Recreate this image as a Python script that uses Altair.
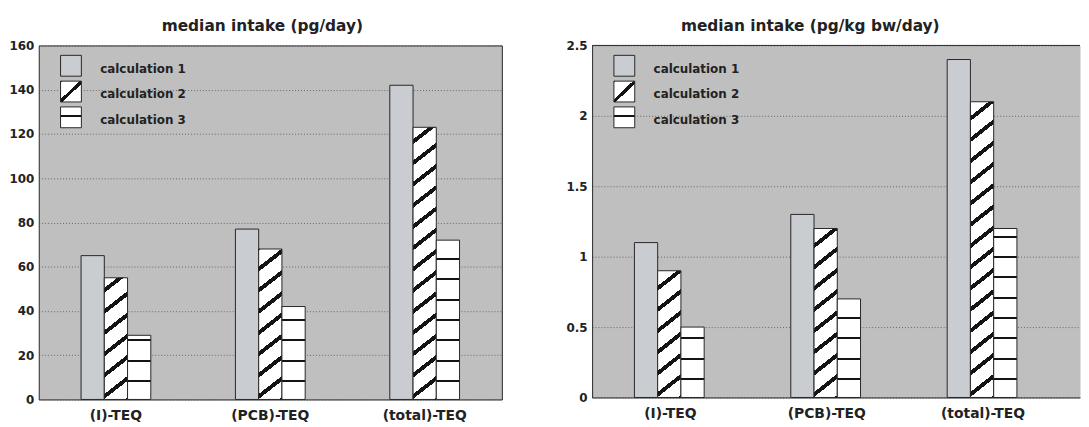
import altair as alt
import pandas as pd

# ---------------- data ----------------
groups = ["(I)-TEQ", "(PCB)-TEQ", "(total)-TEQ"]
series = ["calculation 1", "calculation 2", "calculation 3"]

day_calc1 = [65, 77, 142]
day_calc2 = [55, 68, 123]
day_calc3 = [29, 42, 72]

bw_calc1 = [1.1, 1.3, 2.4]
bw_calc2 = [0.9, 1.2, 2.1]
bw_calc3 = [0.5, 0.7, 1.2]

day_ticks = [0, 20, 40, 60, 80, 100, 120, 140, 160]
bw_ticks = [0, 0.5, 1, 1.5, 2, 2.5]

title_day = "median intake (pg/day)"
title_bw = "median intake (pg/kg bw/day)"

# ---------------- styles ----------------
BG = "#bfbfbf"
C1 = "#c9ccd1"
INK = "#141414"
WHITE = "#ffffff"
EDGE = "#262626"
FONT = "DejaVu Sans"

LEFT_W, LEFT_H = 467, 357
RIGHT_W, RIGHT_H = 492, 355
OFF_PAD = 0.82
# empty slots on each side of the three bars inside a group
OFF_DOMAIN = [" ", *series, "  "]


def stops_from_bands(bands, total):
    stops = [{"offset": 0, "color": WHITE}]
    last = 0.0
    for a, b in sorted(bands):
        a2 = min(max(a / total, last), 1.0)
        b2 = min(max(b / total, a2), 1.0)
        if b2 <= 0 or a2 >= 1 or b2 <= a2:
            continue
        stops += [
            {"offset": a2, "color": WHITE},
            {"offset": a2, "color": INK},
            {"offset": b2, "color": INK},
            {"offset": b2, "color": WHITE},
        ]
        last = b2
    stops.append({"offset": 1, "color": WHITE})
    return stops


def hatch(w, h, s=0.78, period=21.4, thick=5.0, phase=3.0):
    P = s * w + h
    den = (s * w) ** 2 + h ** 2
    x2 = s * w * P / den
    y2 = h * P / den
    centers = []
    c = h - phase
    while c > -thick:
        centers.append(c)
        c -= period
    c = h - phase + period
    while c < P + thick:
        centers.append(c)
        c += period
    bands = [(c - thick / 2, c + thick / 2) for c in centers]
    return {"gradient": "linear", "x1": 0, "y1": 0, "x2": x2, "y2": y2,
            "stops": stops_from_bands(bands, P)}


def hlines(h, first=18.5, period=20.5, thick=2.0):
    centers = []
    d = first
    while d < h - 3:
        centers.append(d)
        d += period
    bands = [(c - thick / 2, c + thick / 2) for c in centers]
    return {"gradient": "linear", "x1": 0, "y1": 1, "x2": 0, "y2": 0,
            "stops": stops_from_bands(bands, h)}


def panel(v1, v2, v3, ymax, ticks, width, height, title, pad_outer, align,
          title_dx, framed):
    rows = []
    for g, a, b, c in zip(groups, v1, v2, v3):
        rows += [{"group": g, "series": series[0], "value": a},
                 {"group": g, "series": series[1], "value": b},
                 {"group": g, "series": series[2], "value": c}]
    df = pd.DataFrame(rows)

    step = width / (3 + 2 * pad_outer)
    bar_w = step / (len(OFF_DOMAIN) + 2 * OFF_PAD)
    px = height / ymax

    conds = []
    for g, b, c in zip(groups, v2, v3):
        conds.append({"test": f"datum.group === '{g}' && datum.series === '{series[1]}'",
                      "value": hatch(bar_w, b * px)})
        conds.append({"test": f"datum.group === '{g}' && datum.series === '{series[2]}'",
                      "value": hlines(c * px)})

    bars = alt.Chart(df).mark_bar(stroke=EDGE, strokeWidth=1).encode(
        x=alt.X("group:N", sort=groups,
                scale=alt.Scale(domain=groups, paddingInner=0, paddingOuter=pad_outer, align=align),
                axis=alt.Axis(title=None, labelAngle=0, labelFontSize=14, labelPadding=9,
                              domain=not framed, domainColor=EDGE, ticks=False, grid=False)),
        xOffset=alt.XOffset("series:N",
                            scale=alt.Scale(domain=OFF_DOMAIN, paddingInner=0, paddingOuter=OFF_PAD)),
        y=alt.Y("value:Q", scale=alt.Scale(domain=[0, ymax], nice=False, zero=True),
                axis=alt.Axis(title=None, values=ticks, labelFontSize=12, labelPadding=5,
                              ticks=False, domain=not framed, domainColor=EDGE, grid=True,
                              gridColor="#4a4a4a", gridDash=[1, 2], gridOpacity=0.75,
                              labelExpr="format(datum.value, '~g')")),
        fill=alt.value(C1, condition=conds),
    )

    layers = [bars]

    if not framed:
        top = alt.Chart(pd.DataFrame({"top": [ymax]})).mark_rule(
            color=EDGE, strokeWidth=1).encode(y="top:Q")
        layers.append(top)

    # legend (manual, styled like the printed figure)
    legend_syms = [C1, hatch(21, 21, s=0.95, period=21.4, thick=4.5, phase=0.5),
                   hlines(21, first=12, period=100, thick=2.0)]
    sym_top = [10, 36, 62]
    txt_base = [27.5, 53.3, 78.8]
    for name, fill, y0, yb in zip(series, legend_syms, sym_top, txt_base):
        d = pd.DataFrame({"label": [name]})
        sym = alt.Chart(d).mark_rect(stroke=EDGE, strokeWidth=1).encode(
            x=alt.value(22), x2=alt.value(43), y=alt.value(y0), y2=alt.value(y0 + 21),
            fill=alt.value(fill))
        txt = alt.Chart(d).mark_text(align="left", baseline="alphabetic", font=FONT,
                                     fontSize=12, fontWeight="bold", color="#222").encode(
            x=alt.value(62), y=alt.value(yb), text="label:N")
        layers += [sym, txt]

    return alt.layer(*layers).properties(
        width=width, height=height,
        title=alt.TitleParams(title, anchor="middle", dx=title_dx),
        view=alt.ViewBackground(fill=BG, stroke=EDGE if framed else "transparent",
                                strokeWidth=1),
    )


left = panel(day_calc1, day_calc2, day_calc3, 160, day_ticks, LEFT_W, LEFT_H,
             title_day, 0, 0.5, -8, True)
right = panel(bw_calc1, bw_calc2, bw_calc3, 2.5, bw_ticks, RIGHT_W, RIGHT_H,
              title_bw, 0.06, 0, -26, False)

chart = alt.hconcat(left, right, spacing=63).configure(
    padding={"left": 0, "top": 9, "right": 0, "bottom": 0},
    background="white",
).configure_axis(
    labelFont=FONT, labelFontWeight="bold", labelColor="#222",
).configure_title(
    font=FONT, fontSize=15.5, fontWeight="bold", color="#222", offset=5,
)

chart.save("out.html", embed_options={"renderer": "svg", "actions": False})
